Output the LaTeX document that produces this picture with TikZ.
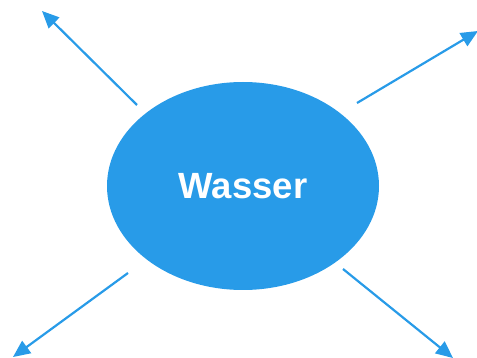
\documentclass[tikz,border=0pt]{standalone}
\usepackage{fontspec}
\setmainfont{Liberation Sans}
\usetikzlibrary{arrows.meta,shapes.geometric}
\definecolor{wblue}{HTML}{289BE8}
\begin{document}
\begin{tikzpicture}[x=1pt,y=-1pt,
  conn/.style={draw=wblue,line width=2.2pt,-{Triangle[length=17pt,width=15pt]}}]
\useasboundingbox (0,0) rectangle (477,358);
\node[ellipse,fill=wblue,minimum width=272pt,minimum height=208pt,inner sep=0pt,
  text=white,font=\fontsize{36.5}{40}\selectfont\bfseries] (w) at (243,186) {Wasser};
\coordinate (s1) at (137,105); \coordinate (e1) at (42,11);
\coordinate (s2) at (357,103); \coordinate (e2) at (478,31);
\coordinate (s3) at (128,273); \coordinate (e3) at (13,357);
\coordinate (s4) at (343,269); \coordinate (e4) at (453,358);
\draw[conn] (s1) -- (e1);
\draw[conn] (s2) -- (e2);
\draw[conn] (s3) -- (e3);
\draw[conn] (s4) -- (e4);
\end{tikzpicture}
\end{document}
